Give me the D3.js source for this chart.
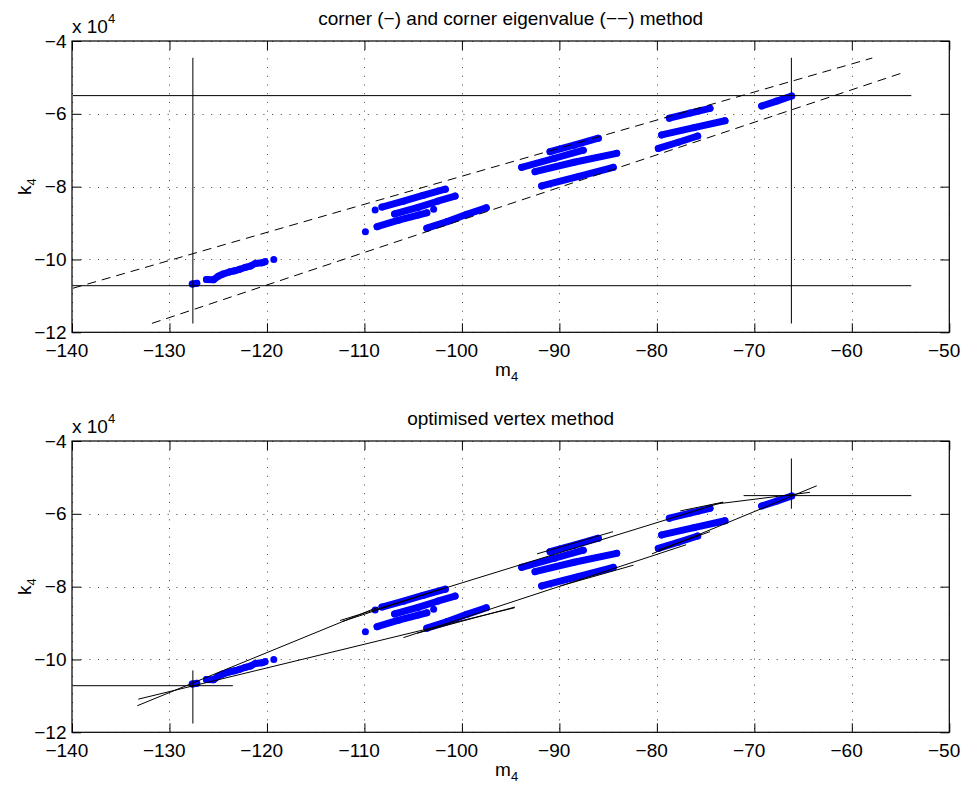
<!DOCTYPE html>
<html>
<head>
<meta charset="utf-8">
<script src="https://cdn.jsdelivr.net/npm/d3@7"></script>
<style>
  html, body { margin: 0; padding: 0; background: #fff; }
  svg { display: block; font-family: "Liberation Sans", Arial, Helvetica, sans-serif; }
</style>
</head>
<body>
<svg id="fig" width="964" height="791"></svg>
<script>
// ---- axis ticks ----
const mTicks = [-140, -130, -120, -110, -100, -90, -80, -70, -60, -50];
const kTicks = [-12, -10, -8, -6, -4];          // k4 in units of 10^4

// ---- measured (m4, k4 x10^4) point streaks ----
const cluster1 = [
  [[-127.66, -10.675], [-127.2, -10.656]],
  [[-126.2, -10.55], [-125.5, -10.56], [-125.0, -10.46], [-124.5, -10.40], [-123.8, -10.34],
   [-123.3, -10.31], [-122.8, -10.27], [-122.25, -10.22], [-121.7, -10.18], [-121.2, -10.11],
   [-120.5, -10.09], [-120.2, -10.06]],
  [[-119.3, -10.0]]
];
const cluster2 = [
  [[-108.9, -8.64]],
  [[-108.2, -8.56], [-106.0, -8.40], [-104.0, -8.24], [-101.7, -8.07]],
  [[-106.9, -8.75], [-104.5, -8.57], [-102.5, -8.40], [-100.7, -8.26]],
  [[-108.7, -9.10], [-106.5, -8.92], [-104.5, -8.78], [-103.6, -8.72]],
  [[-102.9, -8.62]],
  [[-109.9, -9.24]],
  [[-103.6, -9.14], [-101.5, -8.96], [-99.5, -8.76], [-97.5, -8.58]]
];
const cluster3 = [
  [[-90.96, -7.04], [-88.5, -6.86], [-86.0, -6.67]],
  [[-93.87, -7.47], [-90.5, -7.22], [-87.55, -7.00]],
  [[-92.5, -7.59], [-88.5, -7.33], [-84.12, -7.085]],
  [[-91.82, -7.98], [-88.0, -7.72], [-84.47, -7.47]]
];
const cluster4 = [
  [[-78.72, -6.12], [-76.6, -5.98], [-74.55, -5.85]],
  [[-79.51, -6.58], [-76.2, -6.38], [-73.01, -6.19]],
  [[-79.85, -6.95], [-77.8, -6.78], [-75.81, -6.61]]
];
const cluster5 = [
  [[-69.25, -5.785], [-67.7, -5.65], [-66.17, -5.51]]
];
const streaks = [...cluster1, ...cluster2, ...cluster3, ...cluster4, ...cluster5];

// ---- corner method: box edges (solid) ----
const cornerLines = [
  [[-139.9, -5.5], [-53.9, -5.5]],
  [[-139.9, -10.72], [-53.9, -10.72]],
  [[-127.6, -4.46], [-127.6, -11.76]],
  [[-66.2, -4.46], [-66.2, -11.76]]
];
// ---- corner eigenvalue method: principal-direction bounds (dashed) ----
const eigenLines = [
  [[-139.9, -10.79], [-57.9, -4.467]],
  [[-131.8, -11.755], [-54.96, -4.888]]
];

// ---- optimised vertex method ----
const vertexCross = [
  [[-139.9, -10.72], [-123.5, -10.72]],
  [[-127.6, -10.30], [-127.6, -11.76]],
  [[-71.1, -5.5], [-53.9, -5.5]],
  [[-66.2, -4.48], [-66.2, -5.86]]
];
const vertexTangents = [
  [[-133.3, -11.27], [-108.6, -8.56]],
  [[-112.5, -8.93], [-73.2, -5.68]],
  [[-112.3, -8.96], [-102.0, -8.05]],
  [[-92.3, -7.10], [-84.5, -6.49]],
  [[-77.6, -5.92], [-73.2, -5.68]],
  [[-74.2, -5.74], [-64.3, -5.41]],
  [[-133.2, -11.09], [-94.6, -8.58]],
  [[-104.6, -9.28], [-94.56, -8.56]],
  [[-106.0, -9.40], [-77.0, -6.85]],
  [[-89.9, -7.98], [-82.4, -7.41]],
  [[-79.85, -6.99], [-74.55, -6.49]],
  [[-80.5, -7.10], [-63.6, -5.23]]
];

const panels = [
  { top: 41,  title: "corner (\u2212) and corner eigenvalue (\u2212\u2212) method", solid: cornerLines, dashed: eigenLines },
  { top: 441, title: "optimised vertex method", solid: [...vertexCross, ...vertexTangents], dashed: [] }
];

const svg = d3.select("#fig");
const left = 72, right = 949.3, plotH = 291.3;
const fs = 19;

panels.forEach((p, i) => {
  const bottom = p.top + plotH;
  const x = d3.scaleLinear().domain([-140, -50]).range([left, right]);
  const y = d3.scaleLinear().domain([-12, -4]).range([bottom, p.top]);
  const g = svg.append("g");
  const clipId = "clip" + i;
  svg.append("clipPath").attr("id", clipId).append("rect")
    .attr("x", left).attr("y", p.top).attr("width", right - left).attr("height", plotH);

  // grid
  const grid = g.append("g").attr("stroke", "#444").attr("stroke-width", 1)
    .attr("stroke-dasharray", "1,7.7").attr("fill", "none");
  mTicks.forEach(t => grid.append("line").attr("x1", Math.round(x(t)) + 0.5).attr("x2", Math.round(x(t)) + 0.5)
    .attr("y1", p.top).attr("y2", bottom));
  kTicks.forEach(t => grid.append("line").attr("y1", Math.round(y(t)) + 0.5).attr("y2", Math.round(y(t)) + 0.5)
    .attr("x1", left).attr("x2", right));

  const plot = g.append("g").attr("clip-path", `url(#${clipId})`);
  const line = d3.line().x(d => x(d[0])).y(d => y(d[1]));

  // data streaks
  const dots = plot.append("g");
  streaks.forEach(s => {
    if (s.length > 1) {
      dots.append("path").attr("d", line(s)).attr("fill", "none").attr("stroke", "#0000ff")
        .attr("stroke-width", 7).attr("stroke-linecap", "round").attr("stroke-linejoin", "round");
    }
    s.forEach(pt => dots.append("circle").attr("cx", x(pt[0])).attr("cy", y(pt[1]))
      .attr("r", 3.5).attr("fill", "#0000ff"));
  });

  // method lines
  p.solid.forEach(seg => plot.append("path").attr("d", line(seg))
    .attr("fill", "none").attr("stroke", "#000").attr("stroke-width", 1));
  p.dashed.forEach(seg => plot.append("path").attr("d", line(seg))
    .attr("fill", "none").attr("stroke", "#000").attr("stroke-width", 1)
    .attr("stroke-dasharray", "9,6"));

  // axes with inward ticks
  const axB = d3.axisBottom(x).tickValues(mTicks).tickSizeInner(-9).tickSizeOuter(0).tickPadding(11.5);
  const axT = d3.axisTop(x).tickValues(mTicks).tickSizeInner(-9).tickSizeOuter(0).tickFormat("");
  const axL = d3.axisLeft(y).tickValues(kTicks).tickSizeInner(-9).tickSizeOuter(0).tickPadding(5.5);
  const axR = d3.axisRight(y).tickValues(kTicks).tickSizeInner(-9).tickSizeOuter(0).tickFormat("");
  [[axB, `translate(0,${bottom})`], [axT, `translate(0,${p.top})`],
   [axL, `translate(${left},0)`], [axR, `translate(${right},0)`]].forEach(([ax, tr]) => {
    const a = g.append("g").attr("transform", tr).call(ax);
    a.select(".domain").remove();
    a.selectAll("line").attr("stroke", "#000");
    a.selectAll("text").attr("font-size", fs).attr("fill", "#000")
      .attr("font-family", "Liberation Sans, Arial, sans-serif");
  });
  // bottom tick labels sit slightly left of their ticks
  g.selectAll("g").filter(function () { return this.getAttribute("transform") === `translate(0,${bottom})`; })
    .selectAll("text").attr("x", -5.7);

  // box
  g.append("rect").attr("x", left).attr("y", p.top).attr("width", right - left).attr("height", plotH)
    .attr("fill", "none").attr("stroke", "#000").attr("stroke-width", 1.2);

  // exponent label
  const ex = g.append("text").attr("x", left).attr("y", p.top - 8.5).attr("font-size", fs);
  ex.append("tspan").text("x 10");
  ex.append("tspan").attr("font-size", 13).attr("dy", -10).text("4");

  // title
  g.append("text").attr("x", (left + right) / 2).attr("y", p.top - 16.5)
    .attr("text-anchor", "middle").attr("font-size", fs).text(p.title);

  // x label
  const xl = g.append("text").attr("x", (left + right) / 2 - 4).attr("y", bottom + 44)
    .attr("text-anchor", "middle").attr("font-size", fs);
  xl.append("tspan").text("m");
  xl.append("tspan").attr("font-size", 13).attr("dy", 5).text("4");

  // y label
  const yl = g.append("text").attr("transform", `translate(31,${(p.top + bottom) / 2}) rotate(-90)`)
    .attr("text-anchor", "middle").attr("font-size", fs);
  yl.append("tspan").text("k");
  yl.append("tspan").attr("font-size", 13).attr("dy", 5).text("4");
});
</script>
</body>
</html>
